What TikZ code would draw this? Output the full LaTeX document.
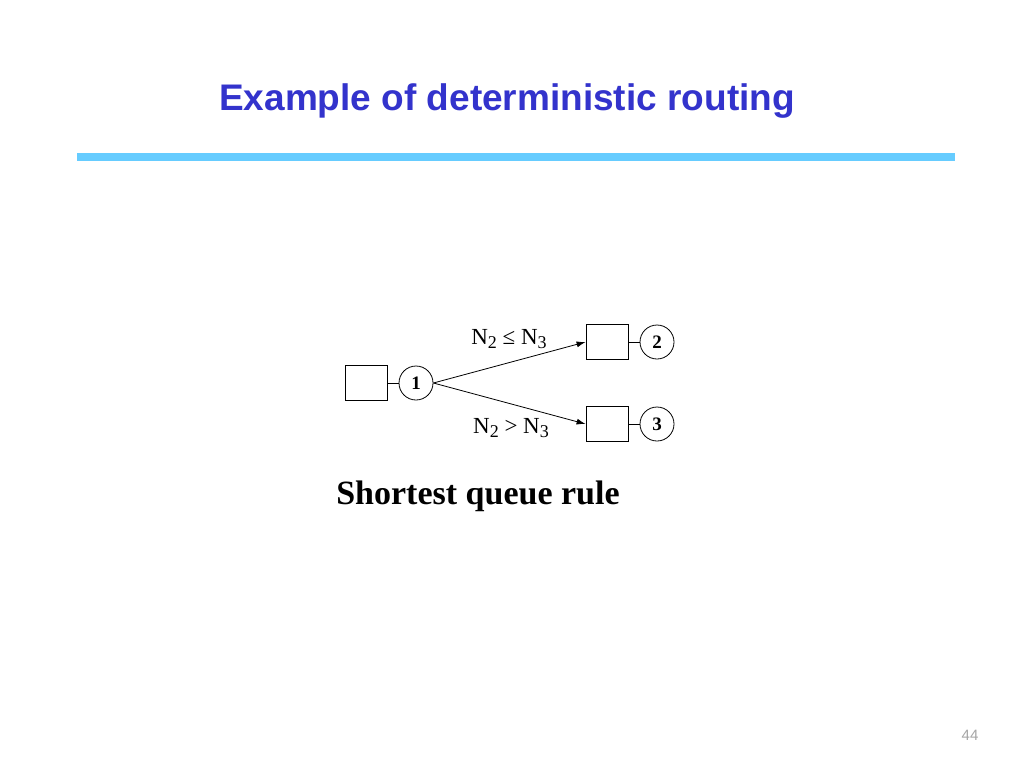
\documentclass[tikz,border=0pt]{standalone}
\usepackage{fontspec}
\setmainfont{Liberation Serif}
\newfontfamily\titlefont{Liberation Sans}
\usetikzlibrary{positioning}
\usetikzlibrary{arrows.meta}
\definecolor{titleblue}{HTML}{3333CC}
\definecolor{barblue}{HTML}{66CCFF}
\newcommand{\lowidx}[1]{\raisebox{-0.45ex}{\fontsize{18}{20}\selectfont #1}}

\begin{document}
\begin{tikzpicture}[x=1pt, y=-1pt, line width=0.8pt]
    \useasboundingbox[fill=white] (0,0) rectangle (1024,768);
    % heading
    \node[text=titleblue, font=\titlefont\fontsize{37}{42}\selectfont\bfseries] (title) at (507,101) {Example of deterministic routing};
    \draw[barblue, line width=8pt] (77,157) -- (955,157);

    % queues and servers
    \node[draw, minimum width=42pt, minimum height=35pt] (q1) at (366,383) {};
    \node[draw, circle, minimum size=34pt, inner sep=0pt, font=\bfseries\fontsize{19}{21}\selectfont] (s1) at (416,383) {1};
    \node[draw, minimum width=42pt, minimum height=35pt] (q2) at (607,342) {};
    \node[draw, circle, minimum size=34pt, inner sep=0pt, font=\bfseries\fontsize{19}{21}\selectfont] (s2) at (657,342) {2};
    \node[draw, minimum width=42pt, minimum height=35pt] (q3) at (607,424) {};
    \node[draw, circle, minimum size=34pt, inner sep=0pt, font=\bfseries\fontsize{19}{21}\selectfont] (s3) at (657,424) {3};
    \draw (q1) -- (s1);
    \draw (q2) -- (s2);
    \draw (q3) -- (s3);

    % routing
    \draw[-{Latex[length=9pt, width=6pt]}] (s1.east) -- (q2.west);
    \draw[-{Latex[length=9pt, width=6pt]}] (s1.east) -- (q3.west);
    \node[font=\fontsize{23}{26}\selectfont] (up) at (509,339) {N\lowidx{2} ≤ N\lowidx{3}};
    \node[font=\fontsize{23}{26}\selectfont] (down) at (511,428) {N\lowidx{2} > N\lowidx{3}};

    \node[font=\bfseries\fontsize{34}{38}\selectfont] (rule) at (478,496) {Shortest queue rule};
    \node[text=black!35, font=\titlefont\fontsize{15}{17}\selectfont] (page) at (970,735) {44};
\end{tikzpicture}
\end{document}
